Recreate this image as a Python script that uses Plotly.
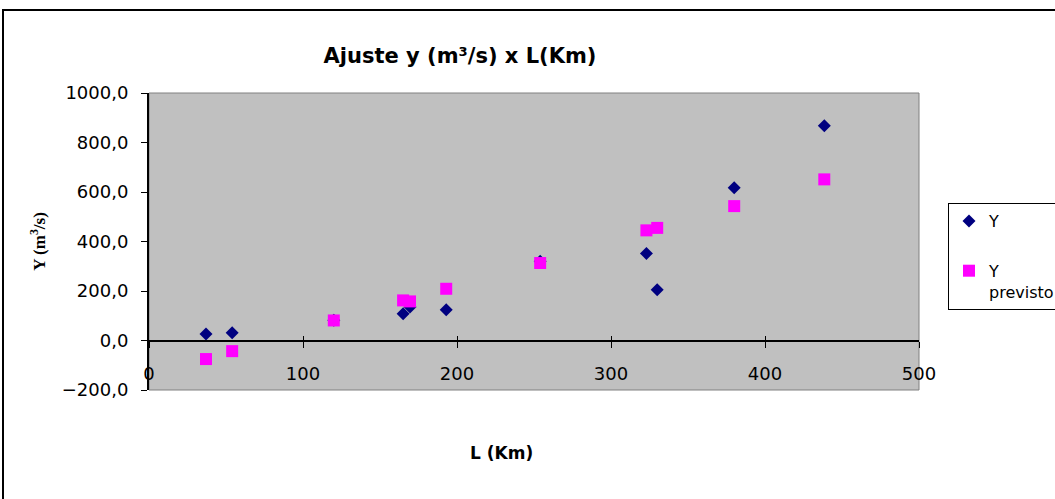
import plotly.graph_objects as go

# Data
L_km = [37, 54, 120, 165, 169.5, 193, 254, 323, 330, 380, 438.5]
Y_obs = [26, 31, 82, 108, 135, 124, 320, 352, 205, 617, 868]
Y_prev = [-75, -43, 81, 162, 158, 209, 313, 445, 455, 543, 651]

x_ticks = [0, 100, 200, 300, 400, 500]
y_ticks = [-200, 0, 200, 400, 600, 800, 1000]

TICK_FONT = dict(family="DejaVu Sans", size=18, color="black")

fig = go.Figure()
fig.add_trace(go.Scatter(
    x=L_km, y=Y_obs, mode="markers", name="Y", legendgroup="a",
    marker=dict(symbol="diamond", size=10, color="#000080", line=dict(width=0)),
))
fig.add_trace(go.Scatter(
    x=L_km, y=Y_prev, mode="markers", name="Y<br>previsto", legendgroup="b",
    marker=dict(symbol="square", size=12, color="#FF00FF", line=dict(width=0)),
))

zero_pos = (0 - y_ticks[0]) / (y_ticks[-1] - y_ticks[0])

fig.update_layout(
    width=1055, height=499, autosize=False,
    margin=dict(l=149, r=136, t=93, b=109, pad=0, autoexpand=False),
    paper_bgcolor="white", plot_bgcolor="#C0C0C0",
    separators=",.",
    title=dict(
        text="<b>Ajuste y (m³/s) x L(Km)</b>",
        font=dict(family="DejaVu Sans", size=21, color="black"),
        x=460 / 1055, xref="container", xanchor="center",
        y=1 - 56 / 499, yref="container", yanchor="middle",
    ),
    xaxis=dict(
        range=[0, 500], tickvals=x_ticks, anchor="free", position=zero_pos,
        showline=True, linecolor="black", linewidth=2,
        ticks="outside", ticklen=6, tickcolor="black", tickwidth=1,
        ticklabelstandoff=11, tickfont=TICK_FONT,
        showgrid=False, zeroline=False,
    ),
    xaxis2=dict(
        range=[0, 500], tickvals=x_ticks, anchor="free", position=zero_pos,
        overlaying="x", showline=False, ticks="inside", ticklen=5,
        tickcolor="black", tickwidth=1, showticklabels=False,
        showgrid=False, zeroline=False,
    ),
    yaxis=dict(
        range=[-200, 1000], tickvals=y_ticks, tickformat=".1f",
        showline=True, linecolor="black", linewidth=2,
        ticks="outside", ticklen=6, tickcolor="black", tickwidth=1,
        ticklabelstandoff=9, tickfont=TICK_FONT,
        showgrid=False, zeroline=False,
        title=dict(text="<b>Y (m<sup>3</sup>/s)</b>", standoff=12,
                   font=dict(family="Liberation Serif", size=17, color="black")),
    ),
    legend=dict(
        x=(948 - 149) / 770, y=(390 - 203) / 297, xanchor="left", yanchor="top",
        bgcolor="white", bordercolor="black", borderwidth=1,
        font=dict(family="DejaVu Sans", size=16, color="black"),
        traceorder="grouped", tracegroupgap=26, valign="top", itemwidth=30,
    ),
    showlegend=True,
)

# dummy trace to activate xaxis2 (crossing ticks)
fig.add_trace(go.Scatter(x=[None], y=[None], xaxis="x2", showlegend=False, hoverinfo="skip"))

# x-axis title (placed as in the original, left of plot centre)
fig.add_annotation(
    text="<b>L (Km)</b>", xref="paper", yref="paper",
    x=(501 - 149) / 770, y=(390 - 453) / 297, xanchor="center", yanchor="middle",
    showarrow=False, font=dict(family="DejaVu Sans", size=17, color="black"),
)

# plot-area border (grey) and outer chart border (black)
fig.add_shape(type="rect", xref="paper", yref="paper", x0=0, x1=1, y0=0, y1=1,
              line=dict(color="#808080", width=1), layer="below")
fig.add_shape(type="rect", xref="paper", yref="paper",
              x0=(3 - 149) / 770, x1=(1070 - 149) / 770,
              y0=(390 - 510) / 297, y1=(390 - 10) / 297,
              line=dict(color="black", width=2), layer="above")

fig.write_html("out.html")
